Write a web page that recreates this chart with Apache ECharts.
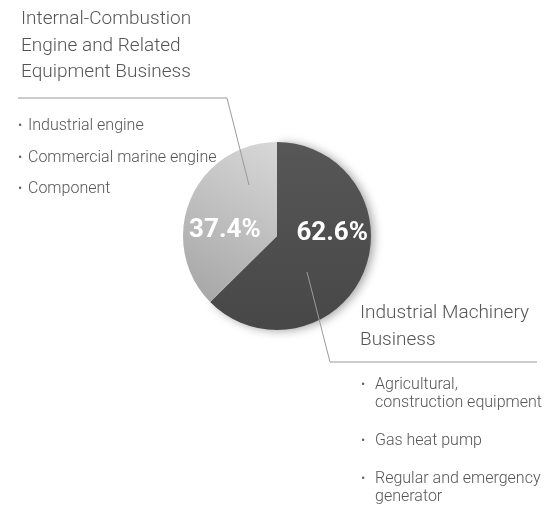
<!DOCTYPE html>
<html>
<head>
<meta charset="utf-8">
<script src="https://cdn.jsdelivr.net/npm/echarts@6/dist/echarts.min.js"></script>
<style>
html,body{margin:0;padding:0;background:#fff;}
#main{width:547px;height:508px;}
</style>
</head>
<body>
<div id="main"></div>
<script>
var categories = ['Industrial Machinery Business', 'Internal-Combustion Engine and Related Equipment Business'];
var shares = [62.6, 37.4];
var leftTitle = ['Internal-Combustion', 'Engine and Related', 'Equipment Business'];
var leftBullets = ['Industrial engine', 'Commercial marine engine', 'Component'];
var rightTitle = ['Industrial Machinery', 'Business'];
var rightBullets = [['Agricultural,', 'construction equipment'], ['Gas heat pump'], ['Regular and emergency', 'generator']];

var chart = echarts.init(document.getElementById('main'), null, {renderer: 'canvas'});
var FONT = 'Roboto, "Open Sans", sans-serif';
function txt(x, y, t, size, color) {
  return {type: 'text', x: x, y: y, z: 20, style: {text: t, fontFamily: FONT, fontSize: size, fontWeight: 300, fill: color, verticalAlign: 'middle', align: 'left'}};
}

var graphics = [];
leftTitle.forEach(function (t, i) {
  graphics.push(txt(21, 19.5 + i * 26.5, t, 19, '#555'));
});
leftBullets.forEach(function (t, i) {
  graphics.push(txt(18, 126 + i * 31.5, '•', 13, '#666'));
  graphics.push(txt(28, 126 + i * 31.5, t, 16, '#555'));
});
rightTitle.forEach(function (t, i) {
  graphics.push(txt(360, 313.5 + i * 27, t, 19, '#555'));
});
var centersY = [385, 441, 479];
rightBullets.forEach(function (lines, i) {
  graphics.push(txt(361, centersY[i], '•', 13, '#666'));
  lines.forEach(function (l, j) {
    graphics.push(txt(375, centersY[i] + j * 17.5, l, 16, '#555'));
  });
});
graphics.push({type: 'polyline', shape: {points: [[18, 98], [227, 98], [249, 185]]}, style: {stroke: '#9a9a9a', lineWidth: 1, fill: null}, z: 10});
graphics.push({type: 'polyline', shape: {points: [[307, 272], [330, 362], [537, 362]]}, style: {stroke: '#9a9a9a', lineWidth: 1, fill: null}, z: 10});

var labelOffsets = [[9, -22], [-6, 14]];

chart.setOption({
  animation: false,
  graphic: graphics,
  series: [{
    type: 'pie',
    center: [277, 236],
    radius: [0, 94],
    startAngle: 90,
    clockwise: true,
    z: 2,
    label: {
      show: true,
      position: 'inside',
      formatter: '{c}%',
      color: '#fff',
      fontFamily: FONT,
      fontWeight: 'bold',
      fontSize: 26
    },
    labelLine: {show: false},
    labelLayout: function (p) {
      return {dx: labelOffsets[p.dataIndex][0], dy: labelOffsets[p.dataIndex][1]};
    },
    emphasis: {disabled: true},
    data: [
      {name: categories[0], value: shares[0], itemStyle: {
        color: new echarts.graphic.LinearGradient(0, 0, 0, 1, [{offset: 0, color: '#575757'}, {offset: 1, color: '#474747'}]),
        shadowBlur: 10, shadowColor: 'rgba(0,0,0,0.35)', shadowOffsetX: 3, shadowOffsetY: 1
      }},
      {name: categories[1], value: shares[1], itemStyle: {
        color: new echarts.graphic.LinearGradient(1, 0, 0, 1, [{offset: 0, color: '#d8d8d8'}, {offset: 1, color: '#a4a4a4'}])
      }}
    ]
  }]
});
</script>
</body>
</html>
